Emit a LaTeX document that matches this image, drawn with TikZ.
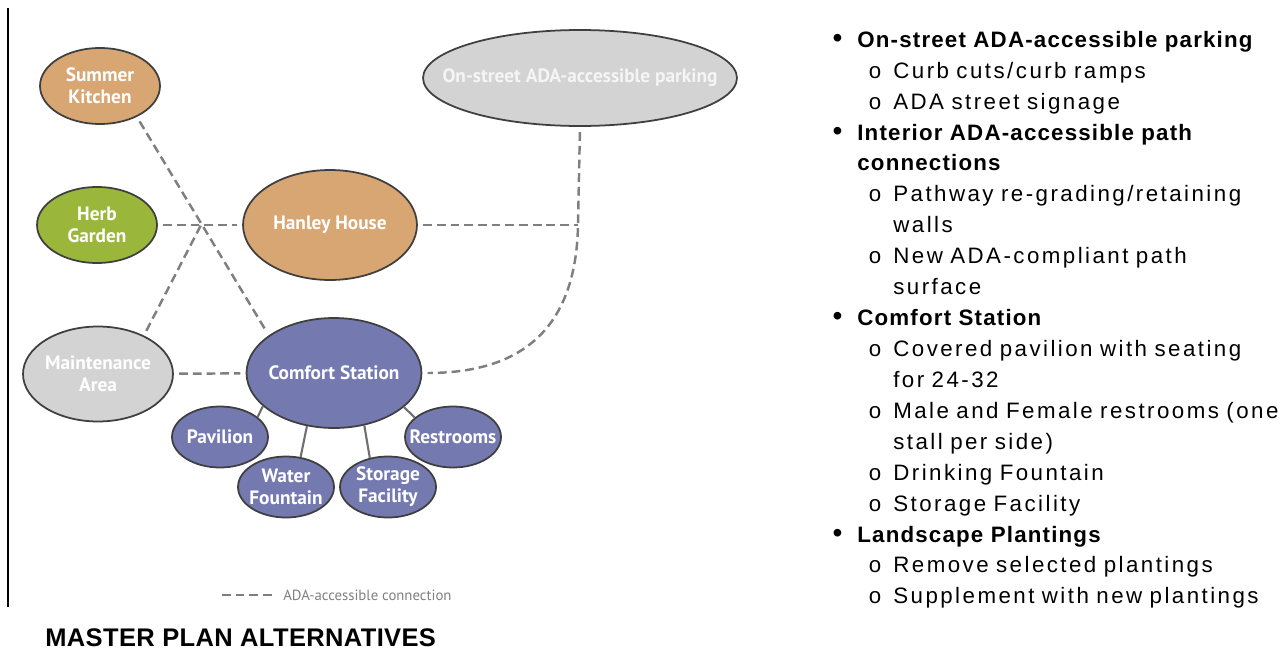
\documentclass[tikz,border=0pt]{standalone}
\usepackage{fontspec}
\setmainfont{Liberation Sans}
\newfontfamily\bubblefont{PT Sans}
\newfontfamily\listfont[LetterSpace=11]{Liberation Sans}
\newfontfamily\headfont[LetterSpace=5.3]{Liberation Sans}
\newfontfamily\titlefont[LetterSpace=1.5]{Liberation Sans}
\usetikzlibrary{shapes.geometric,positioning}

\definecolor{tanfill}{HTML}{D8A672}
\definecolor{herbfill}{HTML}{9AB73B}
\definecolor{stonefill}{HTML}{D3D3D3}
\definecolor{slatefill}{HTML}{7479B0}
\definecolor{rimgray}{HTML}{3F3F3F}
\definecolor{pathgray}{HTML}{7F7F7F}
\definecolor{stemgray}{HTML}{6F6F6F}

\newcommand{\head}[1]{{\headfont\bfseries #1}}
\newcommand{\bigdot}{{\fontsize{16}{16}\selectfont\textbullet}}
\newenvironment{sublist}{%
  \begin{list}{o}{\setlength{\leftmargin}{0.72cm}\setlength{\labelwidth}{0.3cm}%
      \setlength{\labelsep}{0.24cm}\setlength{\itemsep}{0pt}\setlength{\topsep}{0pt}%
      \setlength{\parsep}{0pt}\setlength{\partopsep}{0pt}}}{\end{list}}

\begin{document}
\begin{tikzpicture}[x=0.02cm, y=-0.02cm,
    bubble/.style={ellipse, draw=rimgray, line width=1pt, inner xsep=-0.3cm, inner ysep=0pt,
      align=center, text=white, font=\bubblefont\bfseries\fontsize{11}{12.5}\selectfont},
    subsite/.style={bubble, fill=slatefill, minimum width=1.92cm, minimum height=1.22cm},
    ada/.style={draw=pathgray, line width=1.4pt, dash pattern=on 5pt off 2.8pt},
    gap/.style={shorten <=3pt, shorten >=3pt},
    link/.style={draw=stemgray, line width=1.2pt}]
    \useasboundingbox (0,0) rectangle (1285,649);

    % margin rule
    \coordinate (ruleTop) at (8,8);
    \coordinate (ruleBot) at (8,607);
    \draw[line width=0.8pt] (ruleTop) -- (ruleBot);

    % site bubbles
    \node[bubble, fill=tanfill, minimum width=2.4cm, minimum height=1.52cm] (kitchen) at (100,86) {Summer\\Kitchen};
    \node[bubble, fill=herbfill, minimum width=2.4cm, minimum height=1.52cm] (herb) at (97,225) {Herb\\Garden};
    \node[bubble, fill=tanfill, minimum width=3.48cm, minimum height=2.2cm] (hanley) at (330,225) {Hanley House};
    \node[bubble, fill=stonefill, text=white!92!gray, inner xsep=-0.6cm,
          minimum width=6.28cm, minimum height=1.92cm] (parking) at (580,78) {On-street ADA-accessible parking};
    \node[bubble, fill=stonefill, minimum width=3cm, minimum height=1.9cm] (maint) at (98,374) {Maintenance\\Area};
    \node[bubble, fill=slatefill, minimum width=3.5cm, minimum height=2.2cm] (comfort) at (334,373) {Comfort Station};

    % comfort station parts
    \node[subsite] (pavilion) at (220,437) {Pavilion};
    \node[subsite] (water) at (286,487) {Water\\Fountain};
    \node[subsite] (storage) at (388,487) {Storage\\Facility};
    \node[subsite] (restroom) at (453,437) {Restrooms};

    \draw[link] (comfort.205) -- (pavilion.28);
    \draw[link] (comfort.-117) -- (water.64);
    \draw[link] (comfort.-60) -- (storage.122);
    \draw[link] (comfort.-26) -- (restroom.153);

    % accessible paths
    \coordinate (cross) at (201,225);
    \coordinate (tee) at (578,225);
    \draw[ada, gap] (kitchen.-40) -- (comfort.150);
    \draw[ada, gap] (herb) -- (hanley);
    \draw[ada, shorten <=3pt] (maint.40) -- (cross);
    \draw[ada, gap] (maint) -- (comfort);
    \draw[ada, shorten <=3pt] (hanley.east) -- (tee);
    \draw[ada, gap] (parking.south) -- (tee)
        .. controls (576,335) and (515,373) .. (comfort.east);

    % key
    \coordinate (keyA) at (222,595);
    \coordinate (keyB) at (275,595);
    \draw[ada] (keyA) -- (keyB);
    \node[anchor=west, inner sep=0pt, text=pathgray, font=\bubblefont\fontsize{8.4}{10}\selectfont] (keytext) at (283,595) {ADA-accessible connection};

    \node[anchor=base west, inner sep=0pt, font=\titlefont\bfseries\fontsize{14.5}{16}\selectfont] (title) at (45,646) {MASTER PLAN ALTERNATIVES};

    % program notes
    \node[anchor=north west, inner sep=0pt, text width=12cm,
          font=\listfont\fontsize{12.7}{17.6}\selectfont] (notes) at (832,16) {%
      \begin{list}{\bigdot}{\setlength{\leftmargin}{0.5cm}\setlength{\labelwidth}{0.3cm}%
          \setlength{\labelsep}{0.3cm}\setlength{\itemsep}{0pt}\setlength{\topsep}{0pt}%
          \setlength{\parsep}{0pt}\setlength{\partopsep}{0pt}}
      \item \head{On-street ADA-accessible parking}
        \begin{sublist}
        \item Curb cuts/curb ramps
        \item ADA street signage
        \end{sublist}
      \item \head{Interior ADA-accessible path\newline connections}
        \begin{sublist}
        \item Pathway re-grading/retaining\newline walls
        \item New ADA-compliant path\newline surface
        \end{sublist}
      \item \head{Comfort Station}
        \begin{sublist}
        \item Covered pavilion with seating\newline for 24-32
        \item Male and Female restrooms (one\newline stall per side)
        \item Drinking Fountain
        \item Storage Facility
        \end{sublist}
      \item \head{Landscape Plantings}
        \begin{sublist}
        \item Remove selected plantings
        \item Supplement with new plantings
        \end{sublist}
      \end{list}};
\end{tikzpicture}
\end{document}
